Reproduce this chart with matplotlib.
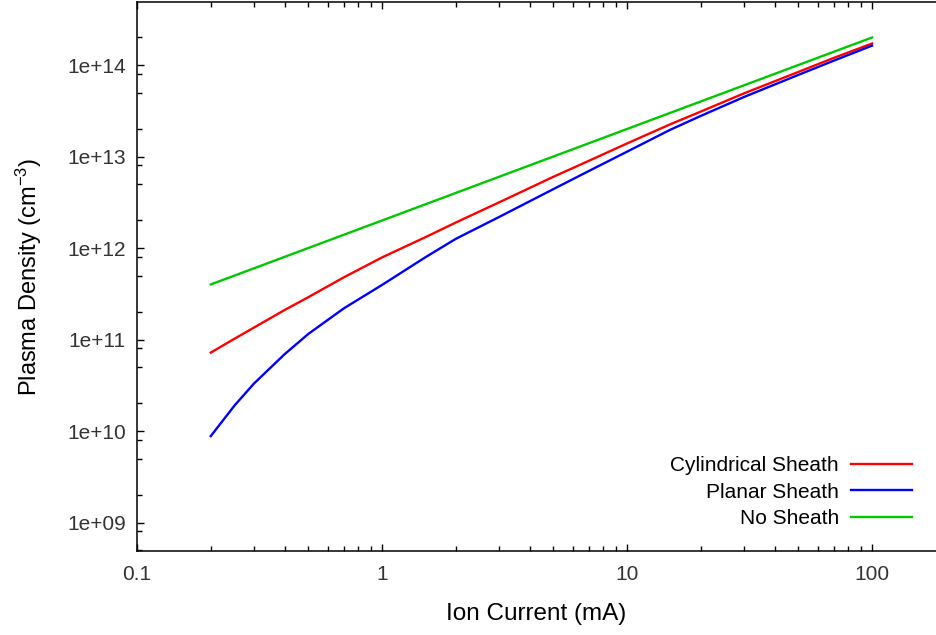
import matplotlib
matplotlib.use("Agg")
import matplotlib.pyplot as plt
from matplotlib.ticker import LogLocator, FuncFormatter, NullFormatter, FixedLocator

plt.rcParams['font.family'] = ['Liberation Sans', 'DejaVu Sans']
plt.rcParams['mathtext.fontset'] = 'custom'
plt.rcParams['mathtext.rm'] = 'Liberation Sans'
plt.rcParams['mathtext.it'] = 'Liberation Sans:italic'
plt.rcParams['mathtext.bf'] = 'Liberation Sans:bold'

# ion current (mA)
current = [0.2, 0.25, 0.3, 0.4, 0.5, 0.7, 1, 1.5, 2, 3, 5, 7, 10, 15, 20, 30, 50, 70, 100]

# plasma density (cm^-3)
cylindrical = [7.2e10, 1.02e11, 1.35e11, 2.1e11, 2.9e11, 4.8e11, 7.9e11, 1.31e12, 1.9e12,
               3.15e12, 6.0e12, 9.0e12, 1.39e13, 2.25e13, 3.1e13, 4.9e13, 8.4e13, 1.2e14, 1.72e14]
planar = [8.8e9, 1.9e10, 3.3e10, 6.9e10, 1.15e11, 2.2e11, 3.95e11, 7.9e11, 1.26e12,
          2.18e12, 4.4e12, 6.97e12, 1.13e13, 1.96e13, 2.78e13, 4.47e13, 7.8e13, 1.12e14, 1.63e14]
no_sheath = [4.0e11, 5.0e11, 6.0e11, 8.0e11, 1.0e12, 1.4e12, 2.0e12, 3.0e12, 4.0e12,
             6.0e12, 1.0e13, 1.4e13, 2.0e13, 3.0e13, 4.0e13, 6.0e13, 1.0e14, 1.4e14, 2.0e14]

y_ticks = [1e9, 1e10, 1e11, 1e12, 1e13, 1e14]
x_ticks = [0.1, 1, 10, 100]

fig = plt.figure(figsize=(9.36, 6.35), dpi=100)
ax = fig.add_axes([137 / 936, 1 - 551 / 635, (936 - 137) / 936, (551 - 2) / 635])

l1, = ax.plot(current, cylindrical, color='#ff0000', lw=1.7)
l2, = ax.plot(current, planar, color='#0000ff', lw=1.7)
l3, = ax.plot(current, no_sheath, color='#00c800', lw=1.7)

ax.set_xscale('log')
ax.set_yscale('log')
ax.set_xlim(0.1, 182.4)
ax.set_ylim(10 ** 8.689, 10 ** 14.689)

ax.xaxis.set_major_locator(FixedLocator(x_ticks))
ax.xaxis.set_major_formatter(FuncFormatter(lambda v, p: f'{v:g}'))
ax.xaxis.set_minor_locator(LogLocator(base=10, subs=range(2, 10)))
ax.xaxis.set_minor_formatter(NullFormatter())
ax.yaxis.set_major_locator(FixedLocator(y_ticks))
ax.yaxis.set_major_formatter(FuncFormatter(lambda v, p: f'{v:.0e}'))
ax.yaxis.set_minor_locator(LogLocator(base=10, subs=[2, 5, 8]))
ax.yaxis.set_minor_formatter(NullFormatter())

ax.spines['right'].set_visible(False)
for s in ['left', 'bottom', 'top']:
    ax.spines[s].set_linewidth(1.1)

ax.tick_params(axis='x', which='both', direction='in', top=True, bottom=True,
               labelsize=15, labelcolor='#333333', pad=10)
ax.tick_params(axis='y', which='both', direction='in', left=True, right=False,
               labelsize=15, labelcolor='#333333', pad=8)
ax.tick_params(which='major', length=5, width=1)
ax.tick_params(which='minor', length=3.5, width=1)

ax.set_xlabel('Ion Current (mA)', fontsize=17.5)
ax.set_ylabel('Plasma Density (cm$^{-3}$)', fontsize=17)
ax.xaxis.set_label_coords(0.5, -0.095)
ax.yaxis.set_label_coords(-0.117, 0.5)

ax.legend([l1, l2, l3], ['Cylindrical Sheath', 'Planar Sheath', 'No Sheath'],
          loc='lower right', bbox_to_anchor=(912 / 936, 1 - 528 / 635),
          bbox_transform=fig.transFigure, markerfirst=False, frameon=False,
          fontsize=15, handlelength=2.93, handletextpad=0.58, labelspacing=0.35,
          borderpad=0, borderaxespad=0)

fig.savefig('out.png', dpi=100)
